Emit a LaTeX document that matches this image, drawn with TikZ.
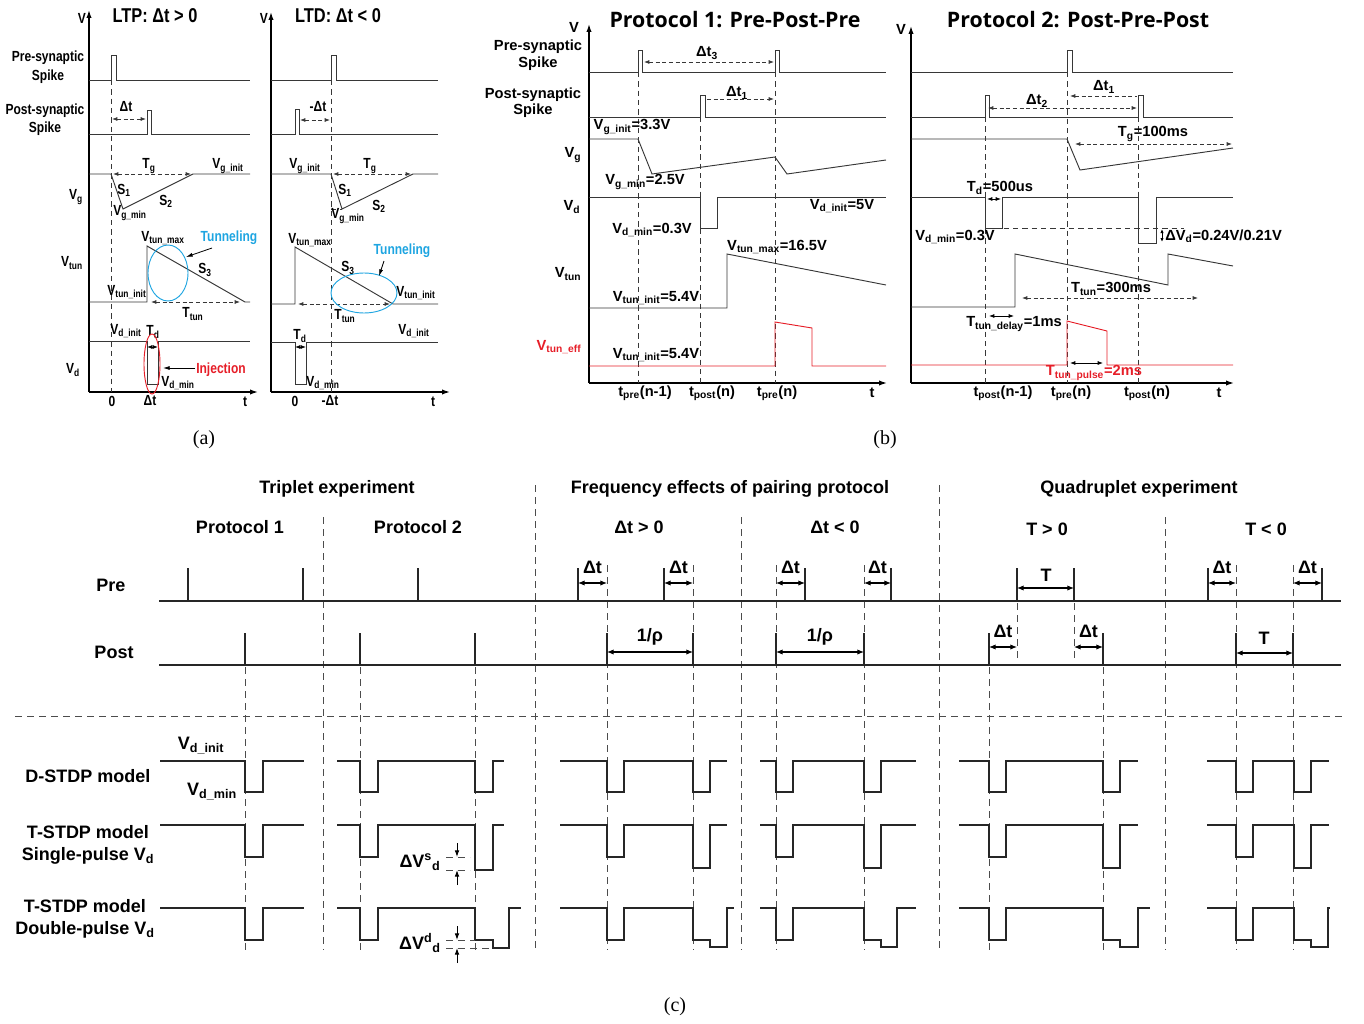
\documentclass[tikz,border=0pt]{standalone}
\usepackage{fontspec}
\setmainfont{Liberation Sans}
\newfontfamily\narrowfont[FakeStretch=0.82]{Liberation Sans}
\newfontfamily\headfont{Open Sans}
\newfontfamily\capfont{Liberation Serif}
\usetikzlibrary{arrows.meta}

\definecolor{tunblue}{RGB}{30,165,225}
\definecolor{injred}{RGB}{230,30,40}
\definecolor{wave}{RGB}{55,55,55}

\tikzset{
  txa/.style={inner sep=0pt, font=\narrowfont\bfseries\fontsize{11}{12}\selectfont},
  txb/.style={inner sep=0pt, font=\bfseries\fontsize{11}{12}\selectfont},
  txc/.style={inner sep=0pt, font=\bfseries\fontsize{13.5}{15}\selectfont},
  capt/.style={inner sep=0pt, font=\capfont\fontsize{15}{16}\selectfont},
  axis/.style={line width=1pt, -{Latex[length=6pt,width=4pt]}},
  sig/.style={wave, line width=0.7pt},
  vdash/.style={wave, line width=0.6pt, dash pattern=on 4pt off 3pt},
  dim/.style={wave, line width=0.6pt, dash pattern=on 3pt off 2pt,
    {Latex[length=4pt,width=3pt]}-{Latex[length=4pt,width=3pt]}},
  halfdim/.style={wave, line width=0.6pt, dash pattern=on 3pt off 2pt},
  tick/.style={black, line width=0.6pt,
    {Latex[length=4pt,width=3pt]}-{Latex[length=4pt,width=3pt]}},
  trace/.style={black!85, line width=1.5pt},
  sep/.style={black!70, line width=0.7pt, dash pattern=on 5pt off 4pt},
  gap/.style={black, line width=0.8pt,
    {Latex[length=5pt,width=4pt]}-{Latex[length=5pt,width=4pt]}}
}

\begin{document}
\begin{tikzpicture}[x=0.75pt, y=-0.75pt]
\useasboundingbox (0,0) rectangle (1364,1024);

% ---------------- (a) LTP ----------------
\draw[axis] (89,392) -- (89,10);
\draw[axis] (89,392) -- (258,392);
\node[txa] (avl) at (82,18) {V};
\node[inner sep=0pt, font=\narrowfont\bfseries\fontsize{15}{16}\selectfont] (ltp) at (155,16) {LTP: Δt > 0};

\node[txa] (apre1) at (48,58) {Pre-synaptic};
\node[txa] (apre2) at (48,77) {Spike};
\node[txa] (apost1) at (45,111) {Post-synaptic};
\node[txa] (apost2) at (45,129) {Spike};
\node[txa] (avg) at (76,197) {V\textsubscript{g}};
\node[txa] (avtun) at (72,263) {V\textsubscript{tun}};
\node[txa] (avd) at (73,370) {V\textsubscript{d}};

\draw[vdash] (111,80) -- (111,392);
\draw[sig] (89,80) -- (111,80) -- (111,55) -- (116,55) -- (116,80) -- (250,80);
\draw[sig] (89,134) -- (147,134) -- (147,110) -- (151,110) -- (151,134) -- (250,134);
\draw[dim] (112,119) -- (146,119);
\node[txa] (adt) at (126,107) {Δt};

% Vg
\draw[sig] (89,174) -- (111,174) -- (123,209) -- (193,174) -- (250,174);
\draw[dim] (113,174) -- (191,174);
\node[txa] (atg) at (149,166) {T\textsubscript{g}};
\node[txa] (avgi) at (228,166) {V\textsubscript{g\_init}};
\node[txa] (as1) at (124,190) {S\textsubscript{1}};
\node[txa] (as2) at (166,201) {S\textsubscript{2}};
\node[txa] (avgm) at (130,213) {V\textsubscript{g\_min}};

% Vtun
\draw[sig] (89,302) -- (147,302) -- (147,246) -- (245,302) -- (250,302);
\draw[dim] (151,302) -- (240,302);
\node[txa] (attun) at (193,314) {T\textsubscript{tun}};
\node[txa] (avtm) at (163,238) {V\textsubscript{tun\_max}};
\node[txa, text=tunblue] (atun) at (229,238) {Tunneling};
\draw[tunblue, line width=0.7pt] (168,273) ellipse [x radius=20, y radius=28];
\draw[-{Latex[length=5pt,width=3pt]}, line width=0.6pt] (212,248) -- (186,257);
\node[txa] (as3) at (205,270) {S\textsubscript{3}};
\node[txa] (avti) at (127,292) {V\textsubscript{tun\_init}};

% Vd
\draw[sig] (89,341) -- (147,341) -- (147,384) -- (158,384) -- (158,341) -- (250,341);
\draw[tick] (147,347) -- (158,347);
\node[txa] (avdi) at (126,331) {V\textsubscript{d\_init}};
\node[txa] (atd) at (153,332) {T\textsubscript{d}};
\draw[injred, line width=0.7pt] (152,364) ellipse [x radius=8, y radius=30];
\draw[-{Latex[length=5pt,width=3pt]}, line width=0.6pt] (195,368) -- (163,368);
\node[txa, text=injred] (ainj) at (221,370) {Injection};
\node[txa] (avdm) at (178,383) {V\textsubscript{d\_min}};

\node[txa] (a0) at (112,401) {0};
\node[txa] (adt2) at (150,401) {Δt};
\node[txa] (at) at (245,402) {t};

% ---------------- (a) LTD ----------------
\draw[axis] (271,392) -- (271,12);
\draw[axis] (271,392) -- (450,392);
\node[txa] (bvl) at (264,18) {V};
\node[inner sep=0pt, font=\narrowfont\bfseries\fontsize{15}{16}\selectfont] (ltd) at (338,16) {LTD: Δt < 0};

\draw[vdash] (331,80) -- (331,392);
\draw[sig] (271,80) -- (331,80) -- (331,55) -- (336,55) -- (336,80) -- (438,80);
\draw[sig] (271,134) -- (295,134) -- (295,109) -- (299,109) -- (299,134) -- (438,134);
\draw[dim] (300,120) -- (330,120);
\node[txa] (bdt) at (318,107) {-Δt};

\draw[sig] (271,174) -- (331,174) -- (342,209) -- (413,174) -- (438,174);
\draw[dim] (333,174) -- (411,174);
\draw[vdash] (331,209) -- (342,209);
\node[txa] (bvgi) at (305,166) {V\textsubscript{g\_init}};
\node[txa] (btg) at (370,166) {T\textsubscript{g}};
\node[txa] (bs1) at (345,190) {S\textsubscript{1}};
\node[txa] (bs2) at (379,206) {S\textsubscript{2}};
\node[txa] (bvgm) at (348,216) {V\textsubscript{g\_min}};

\draw[sig] (271,304) -- (295,304) -- (295,247) -- (393,304) -- (438,304);
\draw[dim] (298,304) -- (390,304);
\node[txa] (bvtm) at (310,240) {V\textsubscript{tun\_max}};
\node[txa] (bs3) at (348,268) {S\textsubscript{3}};
\node[txa] (bttun) at (345,316) {T\textsubscript{tun}};
\node[txa] (bvti) at (416,293) {V\textsubscript{tun\_init}};
\node[txa, text=tunblue] (btun) at (402,251) {Tunneling};
\draw[tunblue, line width=0.7pt] (364,293) ellipse [x radius=33, y radius=20];
\draw[-{Latex[length=5pt,width=3pt]}, line width=0.6pt] (384,261) -- (379,276);

\draw[sig] (271,342) -- (295,342) -- (295,384) -- (306,384) -- (306,342) -- (438,342);
\draw[tick] (295,347) -- (306,347);
\node[txa] (btd) at (300,336) {T\textsubscript{d}};
\node[txa] (bvdi) at (414,331) {V\textsubscript{d\_init}};
\node[txa] (bvdm) at (323,383) {V\textsubscript{d\_min}};

\node[txa] (b0) at (295,401) {0};
\node[txa] (bdt2) at (330,401) {-Δt};
\node[txa] (bt) at (433,402) {t};

\node[capt] (capa) at (204,440) {(a)};

% ---------------- (b) Protocol 1 ----------------
\draw[axis] (589,383) -- (589,24);
\draw[axis] (589,383) -- (887,383);
\node[txb] (cvl) at (574,27) {V};
\node[inner sep=0pt, font=\headfont\bfseries\fontsize{16}{18}\selectfont] (p1t) at (735,20) {Protocol 1: Pre-Post-Pre};

\node[txb] (cpre1) at (538,47) {Pre-synaptic};
\node[txb] (cpre2) at (538,64) {Spike};
\node[txb] (cpost1) at (533,95) {Post-synaptic};
\node[txb] (cpost2) at (533,111) {Spike};
\node[txb] (cvg) at (573,155) {V\textsubscript{g}};
\node[txb] (cvd) at (572,207) {V\textsubscript{d}};
\node[txb] (cvtun) at (568,274) {V\textsubscript{tun}};
\node[txb, text=injred] (cveff) at (559,347) {V\textsubscript{tun\_eff}};

\draw[vdash] (638,72) -- (638,383);
\draw[vdash] (700,117) -- (700,383);
\draw[vdash] (775,72) -- (775,383);

\draw[sig] (589,72) -- (638,72) -- (638,50) -- (642,50) -- (642,72) -- (775,72) -- (775,50) -- (779,50) -- (779,72) -- (886,72);
\draw[dim] (644,62) -- (774,62);
\node[txb] (cdt3) at (707,53) {Δt\textsubscript{3}};
\draw[sig] (589,117) -- (700,117) -- (700,95) -- (705,95) -- (705,117) -- (886,117);
\draw[halfdim, -{Latex[length=4pt,width=3pt]}] (707,99) -- (774,99);
\node[txb] (cdt1) at (737,93) {Δt\textsubscript{1}};

\draw[sig] (589,139) -- (638,139) -- (652,174) -- (775,157) -- (787,174) -- (886,160);
\node[txb] (cvgi) at (632,127) {V\textsubscript{g\_init}=3.3V};
\node[txb] (cvgm) at (645,182) {V\textsubscript{g\_min}=2.5V};

\draw[sig] (589,197) -- (700,197) -- (700,228) -- (717,228) -- (717,197) -- (886,197);
\node[txb] (cvdi) at (842,206) {V\textsubscript{d\_init}=5V};
\node[txb] (cvdm) at (652,230) {V\textsubscript{d\_min}=0.3V};

\draw[sig] (589,308) -- (727,308) -- (727,254) -- (886,285);
\node[txb] (cvtm) at (777,247) {V\textsubscript{tun\_max}=16.5V};
\node[txb] (cvti) at (656,298) {V\textsubscript{tun\_init}=5.4V};

\draw[injred, line width=0.7pt] (589,366) -- (775,366) -- (775,322) -- (812,328) -- (812,366) -- (886,366);
\node[txb] (cvei) at (656,355) {V\textsubscript{tun\_init}=5.4V};

\node[txb] (ct1) at (645,393) {t\textsubscript{pre}(n-1)};
\node[txb] (ct2) at (712,393) {t\textsubscript{post}(n)};
\node[txb] (ct3) at (777,393) {t\textsubscript{pre}(n)};
\node[txb] (ct) at (872,393) {t};

% ---------------- (b) Protocol 2 ----------------
\draw[axis] (911,383) -- (911,26);
\draw[axis] (911,383) -- (1234,383);
\node[txb] (dvl) at (901,29) {V};
\node[inner sep=0pt, font=\headfont\bfseries\fontsize{16}{18}\selectfont] (p2t) at (1078,20) {Protocol 2: Post-Pre-Post};

\draw[vdash] (985,117) -- (985,383);
\draw[vdash] (1067,72) -- (1067,383);
\draw[vdash] (1138,117) -- (1138,383);

\draw[sig] (911,72) -- (1067,72) -- (1067,50) -- (1072,50) -- (1072,72) -- (1233,72);
\draw[sig] (911,117) -- (985,117) -- (985,95) -- (989,95) -- (989,117) -- (1138,117) -- (1138,95) -- (1143,95) -- (1143,117) -- (1233,117);
\draw[halfdim, {Latex[length=4pt,width=3pt]}-] (1070,96) -- (1137,96);
\node[txb] (ddt1) at (1104,87) {Δt\textsubscript{1}};
\draw[dim] (988,108) -- (1137,108);
\node[txb] (ddt2) at (1037,101) {Δt\textsubscript{2}};

\draw[sig] (911,139) -- (1067,139) -- (1080,170) -- (1233,148);
\draw[dim] (1075,144) -- (1232,144);
\node[txb] (dtg) at (1153,134) {T\textsubscript{g}=100ms};

\draw[sig] (911,197) -- (985,197) -- (985,228) -- (1002,228) -- (1002,197) -- (1138,197) -- (1138,243) -- (1156,243) -- (1156,197) -- (1233,197);
\draw[vdash] (985,228) -- (1184,228);
\draw[tick] (987,199) -- (1001,199);
\node[txb] (dtd) at (1000,188) {T\textsubscript{d}=500us};
\node[txb] (dvdm) at (955,237) {V\textsubscript{d\_min}=0.3V};
\draw[black, line width=0.6pt, {Latex[length=3pt,width=2.5pt]}-{Latex[length=3pt,width=2.5pt]}] (1162,229) -- (1162,242);
\node[txb, anchor=west] (ddvd) at (1165,236) {ΔV\textsubscript{d}=0.24V/0.21V};

\draw[sig] (911,307) -- (1015,307) -- (1015,254) -- (1168,285) -- (1168,254) -- (1233,266);
\draw[dim] (1022,298) -- (1198,298);
\node[txb] (dttun) at (1111,289) {T\textsubscript{tun}=300ms};
\draw[tick] (989,316) -- (1014,316);
\node[txb] (dtdl) at (1014,324) {T\textsubscript{tun\_delay}=1ms};

\draw[injred, line width=0.7pt] (911,365) -- (1067,365) -- (1067,321) -- (1107,331) -- (1107,365) -- (1233,365);
\draw[tick] (1070,363) -- (1103,363);
\node[txb, text=injred] (dtp) at (1094,373) {T\textsubscript{tun\_pulse}=2ms};

\node[txb] (dt1) at (1003,393) {t\textsubscript{post}(n-1)};
\node[txb] (dt2) at (1071,393) {t\textsubscript{pre}(n)};
\node[txb] (dt3) at (1147,393) {t\textsubscript{post}(n)};
\node[txb] (dt) at (1219,393) {t};

\node[capt] (capb) at (885,440) {(b)};

% ---------------- (c) ----------------
\node[txc] (trip) at (337,489) {Triplet experiment};
\node[txc] (freq) at (730,489) {Frequency effects of pairing protocol};
\node[txc] (quad) at (1139,489) {Quadruplet experiment};
\node[txc] (sp1) at (240,527) {Protocol 1};
\node[txc] (sp2) at (418,527) {Protocol 2};
\node[txc] (sdp) at (639,527) {Δt > 0};
\node[txc] (sdn) at (835,527) {Δt < 0};
\node[txc] (stp) at (1047,529) {T > 0};
\node[txc] (stn) at (1266,529) {T < 0};

\foreach \x in {535,939} \draw[sep] (\x,485) -- (\x,950);
\foreach \x in {323,741,1165} \draw[sep] (\x,517) -- (\x,950);
\foreach \x in {245,360,475,989,1103} \draw[sep] (\x,667) -- (\x,950);
\foreach \x in {607,693,776,864,1236,1293} \draw[sep] (\x,565) -- (\x,950);
\foreach \x in {1017,1074} \draw[sep] (\x,603) -- (\x,662);
\draw[sep] (15,716) -- (1345,716);

\node[txc] (lpre) at (111,585) {Pre};
\node[txc] (lpost) at (114,652) {Post};
\draw[trace] (159,601) -- (1341,601);
\draw[trace] (159,665) -- (1341,665);
\foreach \x in {188,303,418,578,664,805,891,1017,1074,1208,1322} \draw[trace] (\x,601) -- (\x,568);
\foreach \x in {245,360,475,607,693,776,864,989,1103,1236,1293} \draw[trace] (\x,665) -- (\x,633);

% timing marks
\foreach \a/\b in {578/607,664/693,776/805,864/891,1208/1236,1293/1322} {
  \draw[gap] (\a,583) -- (\b,583);
  \node[txc] at ({(\a+\b)/2},567) {Δt};
}
\foreach \a/\b in {989/1017,1074/1103} {
  \draw[gap] (\a,647) -- (\b,647);
  \node[txc] at ({(\a+\b)/2},631) {Δt};
}
\draw[gap] (607,652) -- (693,652);
\node[txc] (rho1) at (650,637) {1/ρ};
\draw[gap] (776,652) -- (864,652);
\node[txc] (rho2) at (820,637) {1/ρ};
\draw[gap] (1017,588) -- (1074,588);
\node[txc] (tp) at (1046,575) {T};
\draw[gap] (1236,653) -- (1293,653);
\node[txc] (tn) at (1264,638) {T};

% Vd rows
\node[txc] (ld) at (88,776) {D-STDP model};
\node[txc] (ls1) at (88,832) {T-STDP model};
\node[txc] (ls2) at (88,856) {Single-pulse V\textsubscript{d}};
\node[txc] (ldd1) at (85,906) {T-STDP model};
\node[txc] (ldd2) at (85,930) {Double-pulse V\textsubscript{d}};
\node[txc] (cvdi2) at (201,746) {V\textsubscript{d\_init}};
\node[txc] (cvdm2) at (212,792) {V\textsubscript{d\_min}};

% D-STDP
\draw[trace] (160,761) -| (245,792) -| (263,761) -- (304,761);
\draw[trace] (337,761) -| (360,792) -| (378,761) -| (475,792) -| (493,761) -- (504,761);
\draw[trace] (560,761) -| (607,792) -| (624,761) -| (693,792) -| (710,761) -- (727,761);
\draw[trace] (760,761) -| (776,792) -| (793,761) -| (864,792) -| (881,761) -- (916,761);
\draw[trace] (959,761) -| (989,792) -| (1006,761) -| (1103,792) -| (1120,761) -- (1138,761);
\draw[trace] (1207,761) -| (1236,792) -| (1253,761) -| (1294,792) -| (1311,761) -- (1329,761);

% T-STDP single pulse
\draw[trace] (160,825) -| (245,857) -| (263,825) -- (304,825);
\draw[trace] (337,825) -| (360,857) -| (378,825) -| (475,870) -| (493,825) -- (504,825);
\draw[trace] (560,825) -| (607,857) -| (624,825) -| (693,868) -| (710,825) -- (727,825);
\draw[trace] (760,825) -| (776,857) -| (793,825) -| (864,868) -| (881,825) -- (916,825);
\draw[trace] (959,825) -| (989,857) -| (1006,825) -| (1103,868) -| (1120,825) -- (1138,825);
\draw[trace] (1207,825) -| (1236,857) -| (1253,825) -| (1294,868) -| (1311,825) -- (1329,825);
\draw[sep, line width=0.6pt] (446,857) -- (470,857);
\draw[sep, line width=0.6pt] (446,870) -- (470,870);
\draw[-{Latex[length=5pt,width=3.5pt]}, line width=0.7pt] (457,843) -- (457,857);
\draw[-{Latex[length=5pt,width=3.5pt]}, line width=0.7pt] (457,885) -- (457,870);
\node[txc] (dvs) at (420,862) {ΔV\textsuperscript{s}\textsubscript{d}};

% T-STDP double pulse
\draw[trace] (160,908) -| (245,940) -| (263,908) -- (304,908);
\draw[trace] (337,908) -| (360,940) -| (378,908) -| (475,940) -| (493,948) -| (509,908) -- (521,908);
\draw[trace] (560,908) -| (607,940) -| (624,908) -| (693,940) -| (710,947) -| (727,908) -- (734,908);
\draw[trace] (760,908) -| (776,940) -| (793,908) -| (864,940) -| (881,947) -| (897,908) -- (916,908);
\draw[trace] (959,908) -| (989,940) -| (1006,908) -| (1103,940) -| (1120,947) -| (1138,908) -- (1150,908);
\draw[trace] (1207,908) -| (1236,940) -| (1253,908) -| (1294,940) -| (1311,947) -| (1328,908) -- (1330,908);
\draw[sep, line width=0.6pt] (446,940) -- (475,940);
\draw[sep, line width=0.6pt] (446,948) -- (493,948);
\draw[-{Latex[length=5pt,width=3.5pt]}, line width=0.7pt] (457,926) -- (457,940);
\draw[-{Latex[length=5pt,width=3.5pt]}, line width=0.7pt] (457,963) -- (457,948);
\node[txc] (dvdd) at (420,943) {ΔV\textsuperscript{d}\textsubscript{d}};

\node[capt] (capc) at (675,1007) {(c)};
\end{tikzpicture}
\end{document}
